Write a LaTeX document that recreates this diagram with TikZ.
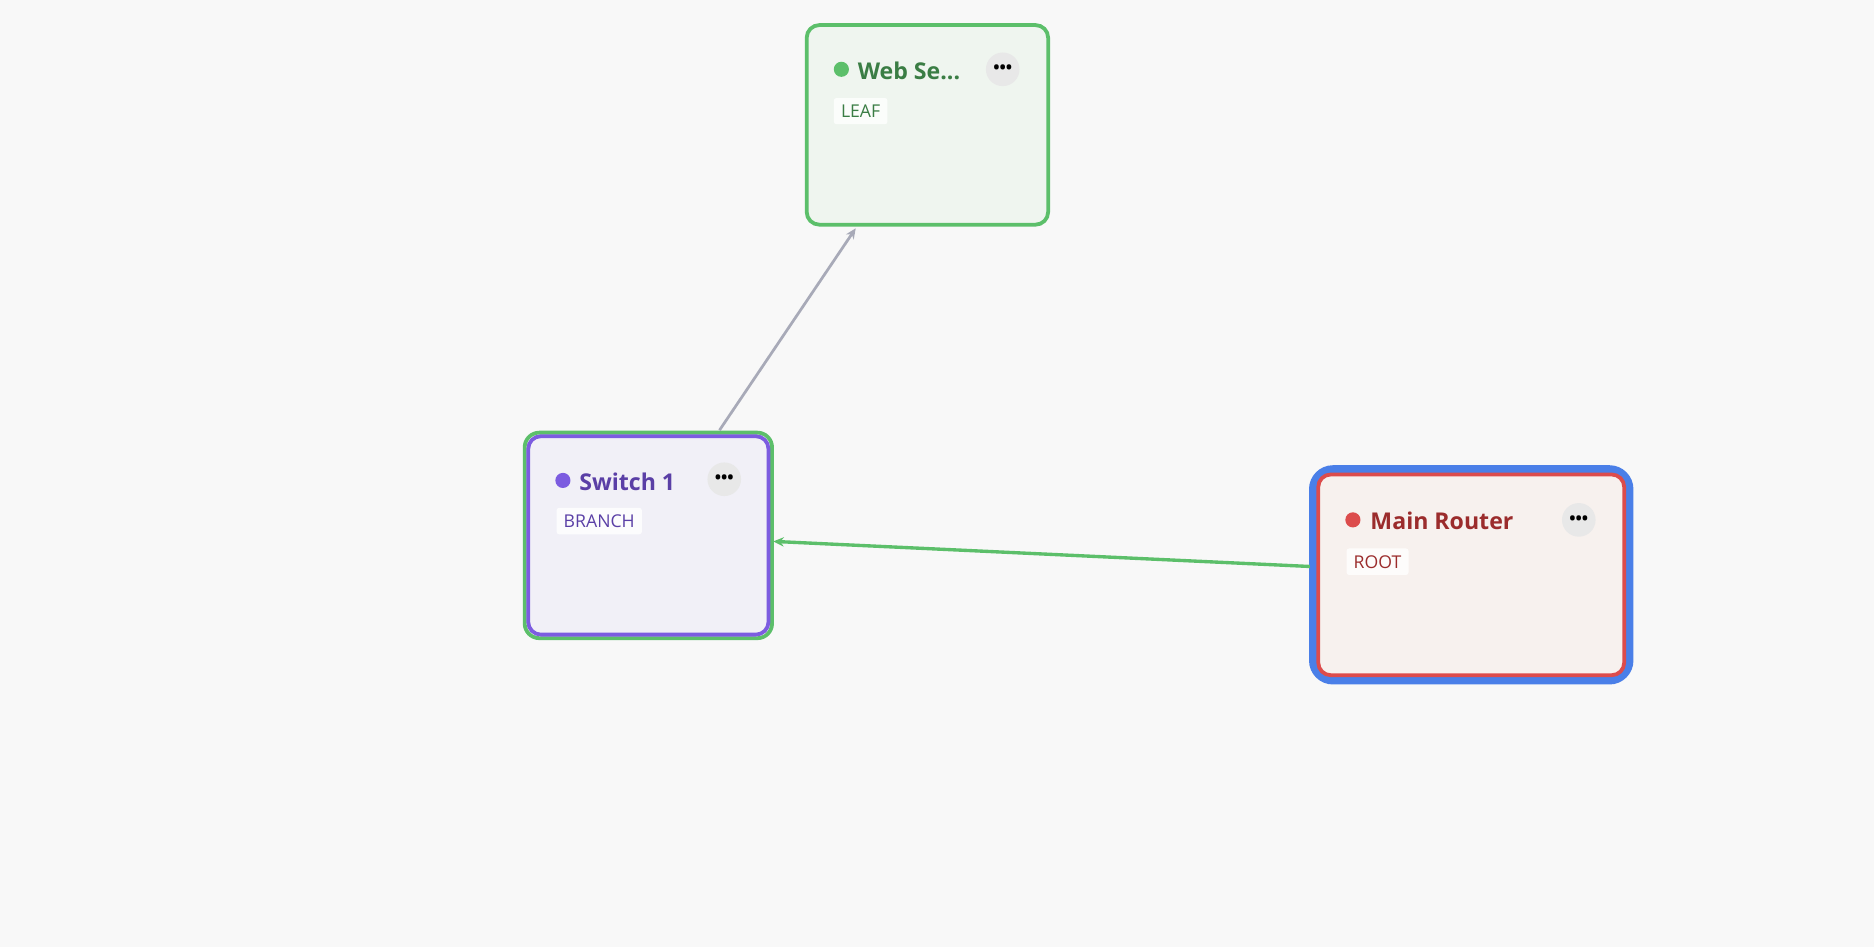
\documentclass[tikz,border=0pt]{standalone}
\usepackage{fontspec}
\setmainfont{Open Sans}
\usetikzlibrary{arrows.meta}
\definecolor{bg}{HTML}{F8F8F8}
\definecolor{gborder}{HTML}{5CBF6A}
\definecolor{gfill}{HTML}{EFF5EF}
\definecolor{gtext}{HTML}{3A7D44}
\definecolor{pborder}{HTML}{7C5CE0}
\definecolor{pfill}{HTML}{F1F0F7}
\definecolor{ptext}{HTML}{5A3FA6}
\definecolor{rborder}{HTML}{DC4C4C}
\definecolor{rfill}{HTML}{F7F1EE}
\definecolor{rtext}{HTML}{9B2C2C}
\definecolor{blueb}{HTML}{4A7FE8}
\definecolor{edgegray}{HTML}{A8AAB8}
\tikzset{
  title/.style={anchor=west,font=\fontsize{5.5pt}{6pt}\selectfont\bfseries,inner sep=0},
  tag/.style={anchor=west,fill=white,fill opacity=0.8,text opacity=1,rounded corners=0.6pt,inner xsep=1.7pt,inner ysep=1.6pt,font=\fontsize{4.2pt}{5pt}\selectfont},
  menu/.style={circle,fill=black!9,minimum size=8pt,inner sep=0,font=\fontsize{4pt}{4pt}\selectfont\bfseries},
  arr/.style={-{Stealth[length=2.5pt,width=2.2pt]},line width=0.65pt}
}
\begin{document}
\begin{tikzpicture}[x=0.01cm,y=-0.01cm]
\fill[bg] (0,0) rectangle (1568,792);
\useasboundingbox (0,0) rectangle (1568,792);
% Web server
\draw[gborder,fill=gfill,line width=0.9pt,rounded corners=3pt] (675,21) rectangle (877,188);
\node[circle,fill=gborder,minimum size=3.6pt,inner sep=0] (wdot) at (704,58) {};
\node[title,text=gtext] (wtitle) at (717,59) {Web Se...};
\node[menu] (wmenu) at (839,58) {•••};
\node[tag,text=gtext] (wtag) at (697,93) {LEAF};
% Switch
\draw[gborder,line width=0.9pt,rounded corners=3.5pt] (439,362) rectangle (646,534);
\draw[pborder,fill=pfill,line width=0.9pt,rounded corners=3pt] (442,365) rectangle (643,531);
\node[circle,fill=pborder,minimum size=3.6pt,inner sep=0] (sdot) at (471,402) {};
\node[title,text=ptext] (stitle) at (484,403) {Switch 1};
\node[menu] (smenu) at (606,401) {•••};
\node[tag,text=ptext] (stag) at (465,436) {BRANCH};
% Router
\draw[blueb,line width=2.4pt,rounded corners=4.5pt] (1099.5,393.5) rectangle (1362.5,568.5);
\draw[rborder,fill=rfill,line width=0.9pt,rounded corners=3pt] (1103,397) rectangle (1359,565);
\node[circle,fill=rborder,minimum size=3.6pt,inner sep=0] (rdot) at (1132,435) {};
\node[title,text=rtext] (rtitle) at (1146,436) {Main Router};
\node[menu] (rmenu) at (1321,435) {•••};
\node[tag,text=rtext] (rtag) at (1126,470) {ROOT};
% edges
\coordinate (sTop) at (602,360);
\coordinate (wBot) at (716,191);
\coordinate (rLeft) at (1096,474);
\coordinate (sRight) at (647,453);
\draw[arr,edgegray] (sTop) -- (wBot);
\draw[arr,gborder,line width=0.8pt] (rLeft) -- (sRight);
\end{tikzpicture}
\end{document}
